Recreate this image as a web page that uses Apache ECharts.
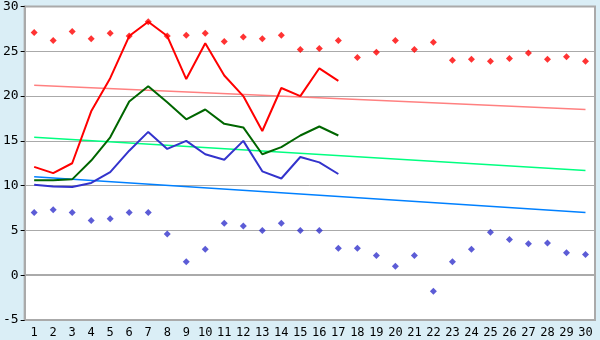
<!DOCTYPE html>
<html><head><meta charset="utf-8">
<script src="https://cdn.jsdelivr.net/npm/echarts@6/dist/echarts.min.js"></script>
<style>html,body{margin:0;padding:0;background:#daeef6;}#c{width:600px;height:340px;}</style>
</head><body><div id="c"></div>
<script>
var days = [];
for (var i = 1; i <= 30; i++) days.push(String(i));
var maxLine = [12.1,11.4,12.5,18.3,22.0,26.7,28.3,26.7,21.9,25.9,22.3,20.0,16.1,20.9,20.0,23.1,21.7];
var meanLine = [10.6,10.6,10.7,12.8,15.4,19.4,21.1,19.3,17.4,18.5,16.9,16.5,13.5,14.3,15.6,16.6,15.6];
var minLine = [10.1,9.9,9.85,10.3,11.5,13.9,16.0,14.1,15.0,13.5,12.9,15.0,11.6,10.8,13.2,12.6,11.3];
var highPts = [27.1,26.2,27.2,26.4,27.0,26.7,28.3,26.7,26.8,27.0,26.1,26.6,26.4,26.8,25.2,25.3,26.2,24.3,24.9,26.2,25.2,26.0,24.0,24.1,23.9,24.2,24.8,24.1,24.4,23.9];
var lowPts = [7.0,7.3,7.0,6.1,6.3,7.0,7.0,4.6,1.5,2.9,5.8,5.5,5.0,5.8,5.0,5.0,3.0,3.0,2.2,1.0,2.2,-1.8,1.5,2.9,4.8,4.0,3.5,3.6,2.5,2.3];
var trendMax = [21.2, 18.5];
var trendMean = [15.4, 11.7];
var trendMin = [11.0, 7.0];
var yTicks = [-5,0,5,10,15,20,25,30];

function ends(pair){
  var a = [];
  for (var i = 0; i < days.length; i++) a.push(null);
  a[0] = pair[0]; a[days.length-1] = pair[1];
  return a;
}
var font = 'DejaVu Sans Mono';
var chart = echarts.init(document.getElementById('c'));
chart.setOption({
  backgroundColor: '#daeef6',
  animation: false,
  grid: {left: 20, right: 5, top: 5, bottom: 20, show: true, backgroundColor: '#ffffff', borderColor: '#aaaaaa', borderWidth: 2},
  xAxis: {
    type: 'category', data: days, boundaryGap: true,
    axisLine: {lineStyle: {color: '#aaaaaa', width: 2}},
    axisTick: {alignWithLabel: true, length: 5, lineStyle: {color: '#000'}},
    axisLabel: {color: '#000', fontFamily: font, fontSize: 12, margin: 7, interval: 0},
    splitLine: {show: false}
  },
  yAxis: {
    type: 'value', min: yTicks[0], max: yTicks[yTicks.length-1], interval: 5,
    axisLine: {show: true, lineStyle: {color: '#aaaaaa', width: 2}},
    axisTick: {show: true, length: 4, lineStyle: {color: '#000'}},
    axisLabel: {color: '#000', fontFamily: font, fontSize: 13, margin: 6},
    splitLine: {lineStyle: {color: '#aaaaaa', width: 1}}
  },
  series: [
    {type: 'line', data: ends(trendMax), connectNulls: true, symbol: 'none', lineStyle: {color: '#ff8080', width: 1.5}},
    {type: 'line', data: ends(trendMean), connectNulls: true, symbol: 'none', lineStyle: {color: '#00ff80', width: 1.5}},
    {type: 'line', data: ends(trendMin), connectNulls: true, symbol: 'none', lineStyle: {color: '#0080ff', width: 1.5}},
    {type: 'line', data: maxLine, symbol: 'none', lineStyle: {color: '#ff0000', width: 2}},
    {type: 'line', data: meanLine, symbol: 'none', lineStyle: {color: '#006600', width: 2}},
    {type: 'line', data: minLine, symbol: 'none', lineStyle: {color: '#3333cc', width: 2}},
    {type: 'scatter', data: highPts, symbol: 'diamond', symbolSize: 7, itemStyle: {color: '#ff0000'}},
    {type: 'scatter', data: lowPts, symbol: 'diamond', symbolSize: 7, itemStyle: {color: '#3333cc'}}
  ]
});
</script></body></html>
